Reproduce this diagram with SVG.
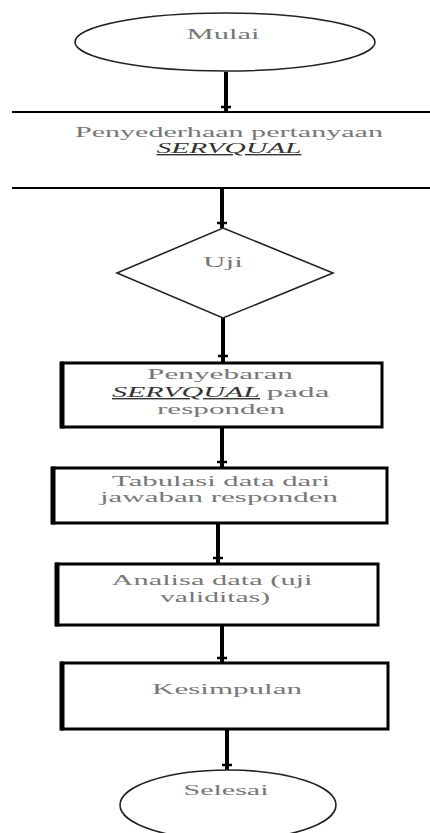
<svg xmlns="http://www.w3.org/2000/svg" width="430" height="833" viewBox="0 0 430 833">
<style>
.t{font-family:"Liberation Serif","Times New Roman",serif;font-size:14px;fill:#777;text-anchor:middle}
.s{font-style:italic;fill:#333;text-decoration:underline}
.shape{fill:#fff;stroke:#222;stroke-width:1.6}
.box{fill:#fff;stroke:#000;stroke-width:3}
.lft{stroke:#000;stroke-width:5}
.edge{stroke:#000;stroke-width:4;fill:none}
.tick{stroke:#000;stroke-width:2.5;fill:none}
</style>
<rect width="430" height="833" fill="#fff"/>
<g id="connectors">
<line class="edge" x1="226" y1="72" x2="226" y2="111"/><line class="tick" x1="221" y1="107" x2="231" y2="107"/>
<line class="edge" x1="222" y1="188" x2="222" y2="228"/><line class="tick" x1="217" y1="223" x2="227" y2="223"/>
<line class="edge" x1="223" y1="318" x2="223" y2="363"/><line class="tick" x1="218" y1="356" x2="228" y2="356"/>
<line class="edge" x1="222" y1="427" x2="222" y2="468"/><line class="tick" x1="217" y1="462" x2="227" y2="462"/>
<line class="edge" x1="218" y1="523" x2="218" y2="564"/><line class="tick" x1="213" y1="558" x2="223" y2="558"/>
<line class="edge" x1="222" y1="625" x2="222" y2="663"/><line class="tick" x1="217" y1="658" x2="227" y2="658"/>
<line class="edge" x1="227" y1="729" x2="227" y2="770"/><line class="tick" x1="222" y1="765" x2="232" y2="765"/>
</g>
<g id="mulai">
<ellipse class="shape" cx="225" cy="42" rx="150" ry="29"/>
<text class="t" x="223" y="39" textLength="73" lengthAdjust="spacingAndGlyphs">Mulai</text>
</g>
<g id="penyederhanaan">
<line x1="12" y1="112" x2="430" y2="112" stroke="#000" stroke-width="2"/>
<line x1="12" y1="188" x2="430" y2="188" stroke="#000" stroke-width="2"/>
<text class="t" x="229" y="137" textLength="308" lengthAdjust="spacingAndGlyphs">Penyederhaan pertanyaan</text>
<text class="t s" x="229" y="153" textLength="145" lengthAdjust="spacingAndGlyphs">SERVQUAL</text>
</g>
<g id="uji">
<polygon class="shape" points="223,228 333,273 223,318 117,273"/>
<text class="t" x="223" y="267" textLength="40" lengthAdjust="spacingAndGlyphs">Uji</text>
</g>
<g id="penyebaran">
<rect class="box" x="62" y="363" width="320" height="64"/>
<line class="lft" x1="62" y1="361.5" x2="62" y2="428.5"/>
<text class="t" x="220" y="379" textLength="146" lengthAdjust="spacingAndGlyphs">Penyebaran</text>
<text class="t s" x="186" y="397" textLength="148" lengthAdjust="spacingAndGlyphs">SERVQUAL</text>
<text class="t" x="298" y="397" textLength="63" lengthAdjust="spacingAndGlyphs">pada</text>
<text class="t" x="221" y="414" textLength="128" lengthAdjust="spacingAndGlyphs">responden</text>
</g>
<g id="tabulasi">
<rect class="box" x="53" y="468" width="334" height="55"/>
<line class="lft" x1="53" y1="466.5" x2="53" y2="524.5"/>
<text class="t" x="221" y="486" textLength="218" lengthAdjust="spacingAndGlyphs">Tabulasi data dari</text>
<text class="t" x="219" y="502" textLength="238" lengthAdjust="spacingAndGlyphs">jawaban responden</text>
</g>
<g id="analisa">
<rect class="box" x="57" y="564" width="321" height="61"/>
<line class="lft" x1="57" y1="562.5" x2="57" y2="626.5"/>
<text class="t" x="212" y="585" textLength="201" lengthAdjust="spacingAndGlyphs">Analisa data (uji</text>
<text class="t" x="215" y="602" textLength="110" lengthAdjust="spacingAndGlyphs">validitas)</text>
</g>
<g id="kesimpulan">
<rect class="box" x="62" y="663" width="326" height="66"/>
<line class="lft" x1="62" y1="661.5" x2="62" y2="730.5"/>
<text class="t" x="227" y="694" textLength="150" lengthAdjust="spacingAndGlyphs">Kesimpulan</text>
</g>
<g id="selesai">
<ellipse class="shape" cx="228" cy="805" rx="108" ry="35"/>
<text class="t" x="226" y="795" textLength="85" lengthAdjust="spacingAndGlyphs">Selesai</text>
</g>
</svg>
